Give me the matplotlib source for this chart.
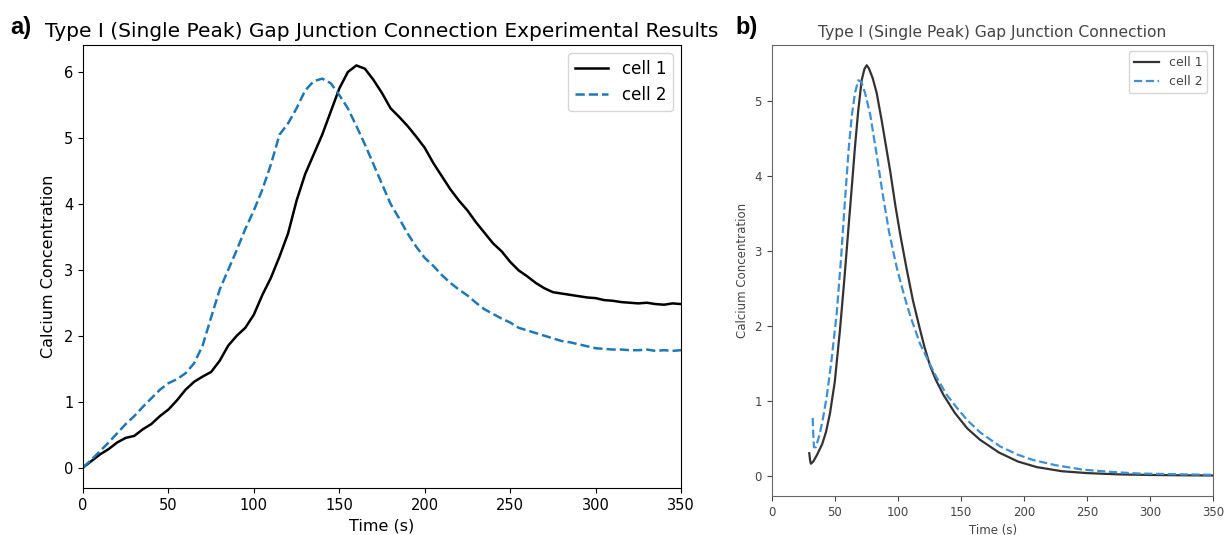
import matplotlib
matplotlib.use("Agg")
import matplotlib.pyplot as plt

# ── Data: panel a (experiment), sampled every 5 s ─────────────────────────────
t_exp = list(range(0, 351, 5))
exp_cell1 = [0.00, 0.10, 0.20, 0.28, 0.38, 0.45, 0.48, 0.58, 0.66, 0.78,
             0.88, 1.02, 1.18, 1.30, 1.38, 1.45, 1.62, 1.85, 2.00, 2.12,
             2.32, 2.62, 2.88, 3.20, 3.55, 4.05, 4.45, 4.75, 5.05, 5.40,
             5.75, 6.00, 6.10, 6.05, 5.88, 5.68, 5.45, 5.32, 5.18, 5.02,
             4.85, 4.62, 4.42, 4.22, 4.05, 3.90, 3.72, 3.56, 3.40, 3.28,
             3.12, 2.99, 2.90, 2.80, 2.72, 2.66, 2.64, 2.62, 2.60, 2.58,
             2.57, 2.54, 2.53, 2.51, 2.50, 2.49, 2.50, 2.48, 2.47, 2.49,
             2.48]
exp_cell2 = [0.00, 0.12, 0.25, 0.38, 0.52, 0.66, 0.78, 0.92, 1.05, 1.18,
             1.28, 1.34, 1.43, 1.58, 1.85, 2.28, 2.70, 3.00, 3.30, 3.62,
             3.90, 4.22, 4.60, 5.05, 5.22, 5.45, 5.72, 5.86, 5.90, 5.83,
             5.65, 5.45, 5.18, 4.90, 4.60, 4.30, 4.00, 3.78, 3.55, 3.35,
             3.18, 3.06, 2.92, 2.80, 2.70, 2.61, 2.50, 2.40, 2.33, 2.26,
             2.20, 2.12, 2.08, 2.04, 2.00, 1.96, 1.92, 1.90, 1.87, 1.84,
             1.81, 1.80, 1.79, 1.79, 1.78, 1.78, 1.79, 1.77, 1.78, 1.77,
             1.78]

# ── Data: panel b (model) ─────────────────────────────────────────────────────
t_mod1 = [29.8, 30.5, 31.1, 33, 36, 40, 43, 46.2, 50, 54.1, 57.5, 60.7, 63.5,
          66, 68.5, 71.3, 73.5, 75.3, 77, 80, 83.2, 87, 90, 94, 98, 102, 107,
          112, 117.5, 121, 125.4, 130, 136, 145, 155, 165, 180, 195, 210, 230,
          250, 275, 300, 325, 350]
mod_cell1 = [0.30, 0.20, 0.16, 0.19, 0.28, 0.42, 0.58, 0.83, 1.25, 1.94,
             2.60, 3.27, 3.85, 4.38, 4.85, 5.27, 5.42, 5.47, 5.43, 5.30,
             5.10, 4.75, 4.45, 4.05, 3.60, 3.20, 2.75, 2.33, 1.95, 1.72,
             1.47, 1.28, 1.08, 0.84, 0.63, 0.48, 0.31, 0.19, 0.115, 0.06,
             0.035, 0.018, 0.010, 0.006, 0.003]
t_mod2 = [32.5, 33, 33.5, 35, 38, 40.5, 43.6, 47.5, 51.5, 55, 58, 61, 63.5,
          66, 68.6, 71, 74, 78, 83, 88, 93, 99, 105, 110, 117.5, 125, 130,
          139, 147, 155, 165, 181, 195, 207, 225, 247, 270, 290, 320, 350]
mod_cell2 = [0.77, 0.55, 0.38, 0.38, 0.55, 0.75, 1.05, 1.55, 2.16, 2.90,
             3.65, 4.35, 4.80, 5.10, 5.27, 5.25, 5.10, 4.82, 4.30, 3.75,
             3.25, 2.78, 2.40, 2.12, 1.76, 1.50, 1.33, 1.07, 0.90, 0.74,
             0.58, 0.39, 0.28, 0.21, 0.14, 0.08, 0.05, 0.03, 0.02, 0.012]

ticks_x = [0, 50, 100, 150, 200, 250, 300, 350]

fig = plt.figure(figsize=(12.26, 5.35), dpi=100)

# ── Panel a ───────────────────────────────────────────────────────────────────
ax1 = fig.add_axes([0.0677, 0.0879, 0.4878, 0.828])
ax1.plot(t_exp, exp_cell1, color="black", lw=1.8, label="cell 1")
ax1.plot(t_exp, exp_cell2, color="#1f77b4", lw=1.8, ls="--", label="cell 2")
ax1.set_xlim(0, 350)
ax1.set_ylim(-0.31, 6.41)
ax1.set_xticks(ticks_x)
ax1.tick_params(labelsize=10.5)
ax1.set_xlabel("Time (s)", fontsize=11.5)
ax1.set_ylabel("Calcium Concentration", fontsize=11.5, labelpad=6)
ax1.set_title("Type I (Single Peak) Gap Junction Connection Experimental Results",
              fontsize=14.5, pad=6)
ax1.legend(loc="upper right", fontsize=12)

# ── Panel b ───────────────────────────────────────────────────────────────────
grey = "#444444"
ax2 = fig.add_axes([0.6294, 0.0729, 0.3604, 0.843])
ax2.plot(t_mod1, mod_cell1, color="#333333", lw=1.6, label="cell 1")
ax2.plot(t_mod2, mod_cell2, color="#3f8fd2", lw=1.6, ls="--", label="cell 2")
ax2.set_xlim(0, 350)
ax2.set_ylim(-0.27, 5.74)
ax2.set_xticks(ticks_x)
ax2.tick_params(labelsize=8.5, colors=grey)
for s in ax2.spines.values():
    s.set_color("#666666")
ax2.set_xlabel("Time (s)", fontsize=8.5, color=grey)
ax2.set_ylabel("Calcium Concentration", fontsize=8.5, color=grey)
ax2.set_title("Type I (Single Peak) Gap Junction Connection", fontsize=11.2,
              color=grey, pad=6)
leg = ax2.legend(loc="upper right", fontsize=9)
for txt in leg.get_texts():
    txt.set_color(grey)

# panel letters
fig.text(0.008, 0.948, "a)", fontsize=17, fontweight="bold", va="center",
         family="Liberation Sans")
fig.text(0.600, 0.948, "b)", fontsize=17, fontweight="bold", va="center",
         family="Liberation Sans")

fig.savefig("out.png", dpi=100, facecolor="white")
